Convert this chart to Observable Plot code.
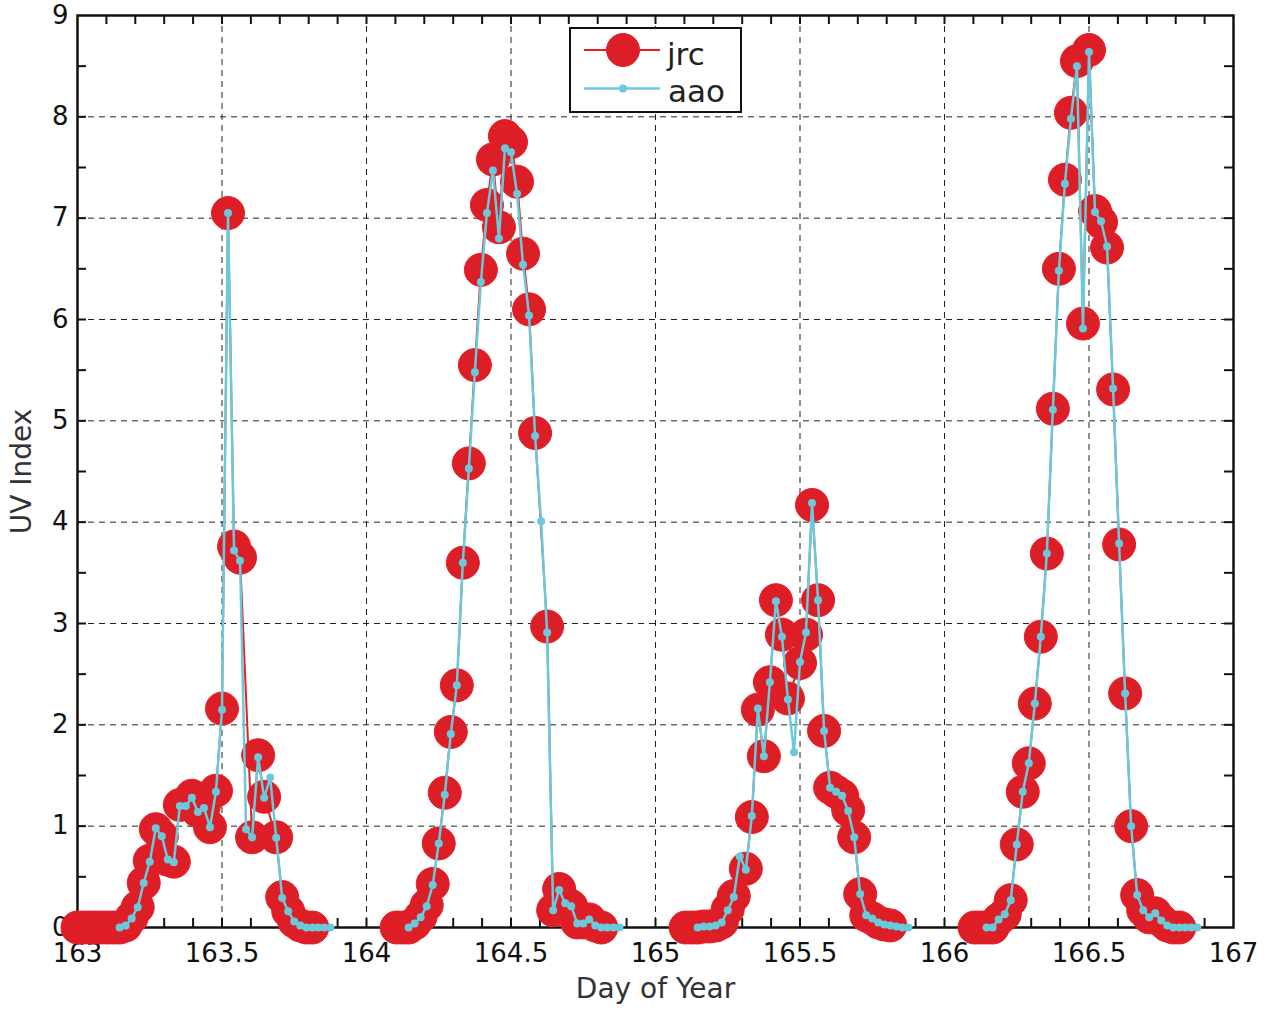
<!DOCTYPE html>
<html>
<head>
<meta charset="utf-8">
<script src="https://cdn.jsdelivr.net/npm/d3@7"></script>
<script src="https://cdn.jsdelivr.net/npm/@observablehq/plot@0.6"></script>
<style>
  html, body { margin: 0; padding: 0; background: #fff; }
  #chart { position: relative; width: 1274px; height: 1013px; font-family: "DejaVu Sans", sans-serif; }
  .legend { position: absolute; left: 569px; top: 27px; width: 173px; height: 86px;
            box-sizing: border-box; border: 2.5px solid #111; background: #fff; }
  .legend svg { display: block; }
</style>
</head>
<body>
<div id="chart"></div>
<script>
// Days of year shown, one curve per day
const days = [163, 164, 165, 166];

// aao: half-hour slot of each reading (slot / 48 = fraction of the day)
const aaoSlots = [7, 8, 9, 10, 11, 12, 13, 14, 15, 16, 17, 18, 19, 20, 21, 22, 23, 24,
                  25, 26, 27, 28, 29, 30, 31, 32, 33, 34, 35, 36, 37, 38, 39, 40, 41, 42];
const aao163 = [0, 0.02, 0.09, 0.20, 0.44, 0.65, 0.98, 0.90, 0.67, 0.645,
                1.20, 1.20, 1.28, 1.14, 1.18, 0.99, 1.34, 2.15, 7.05, 3.72,
                3.62, 0.97, 0.89, 1.68, 1.28, 1.48, 0.885, 0.29, 0.16, 0.06,
                0.02, 0, 0, 0, 0, 0];
const aao164 = [0, 0.04, 0.10, 0.21, 0.42, 0.83, 1.31, 1.91, 2.39, 3.60,
                4.53, 5.48, 6.37, 7.05, 7.47, 6.80, 7.69, 7.65, 7.24, 6.54,
                6.04, 4.85, 4.01, 2.91, 0.17, 0.37, 0.24, 0.21, 0.04, 0.04,
                0.08, 0.02, 0, 0, 0, 0];
const aao165 = [0, 0.01, 0.01, 0.02, 0.05, 0.17, 0.30, 0.70, 0.57, 1.10,
                2.16, 1.69, 2.42, 3.22, 2.87, 2.25, 1.73, 2.62, 2.91, 4.19,
                3.23, 1.94, 1.38, 1.34, 1.30, 1.15, 0.89, 0.33, 0.12, 0.09,
                0.05, 0.03, 0.02, 0.01, 0, 0];
const aao166 = [0, 0, 0.08, 0.13, 0.27, 0.82, 1.34, 1.62, 2.21, 2.87,
                3.69, 5.11, 6.48, 7.34, 7.98, 8.50, 5.91, 8.64, 7.06, 6.97,
                6.72, 5.32, 3.79, 2.31, 1.00, 0.32, 0.17, 0.10, 0.14, 0.07,
                0.02, 0, 0, 0, 0, 0];

// jrc: half-hour slots 0..39; null where no reading was recorded
const jrcSlots = [0, 1, 2, 3, 4, 5, 6, 7, 8, 9, 10, 11, 12, 13, 14, 15, 16, 17, 18, 19,
                  20, 21, 22, 23, 24, 25, 26, 27, 28, 29, 30, 31, 32, 33, 34, 35, 36, 37, 38, 39];
const jrc163 = [0, 0, 0, 0, 0, 0, 0, 0, 0.02, 0.10,
                0.20, 0.44, 0.66, 0.97, 0.90, 0.67, 0.65, 1.21, 1.22, 1.30,
                1.15, 1.20, 0.99, 1.35, 2.16, 7.05, 3.76, 3.65, null, 0.89,
                1.70, 1.29, null, 0.89, 0.30, 0.16, 0.06, 0.02, 0, 0];
const jrc164 = [null, null, null, null, null, 0, 0, 0, 0.04, 0.11,
                0.22, 0.43, 0.83, 1.33, 1.93, 2.39, 3.60, 4.58, 5.55, 6.49,
                7.13, 7.58, 6.91, 7.81, 7.75, 7.36, 6.65, 6.10, 4.88, null,
                2.97, 0.17, 0.38, 0.25, 0.21, 0.05, 0.05, 0.08, 0.02, 0];
const jrc165 = [null, null, null, null, null, 0, 0, 0, 0.01, 0.01,
                0.02, 0.05, 0.18, 0.31, null, 0.58, 1.09, 2.15, 1.69, 2.42,
                3.23, 2.89, 2.26, null, 2.61, 2.89, 4.17, 3.23, 1.94, 1.38,
                1.34, 1.30, 1.16, 0.89, 0.33, 0.12, 0.09, 0.05, 0.03, 0.02];
const jrc166 = [null, null, null, null, null, 0, 0, 0, 0, 0.08,
                0.13, 0.27, 0.82, 1.34, 1.62, 2.21, 2.87, 3.69, 5.12, 6.50,
                7.38, 8.04, 8.55, 5.96, 8.66, 7.07, 6.96, 6.71, 5.31, 3.78,
                2.31, 1.00, 0.32, 0.17, 0.10, 0.14, 0.07, 0.02, 0, 0];

// Axis ticks
const xTickLabels = [163, 163.5, 164, 164.5, 165, 165.5, 166, 166.5, 167];
const yTickLabels = [0, 1, 2, 3, 4, 5, 6, 7, 8, 9];

// Assemble long-format rows, one line per day
function rows(slots, perDay) {
  const out = [];
  days.forEach((day, i) => {
    perDay[i].forEach((v, j) => {
      if (v !== null) out.push({day, t: day + slots[j] / 48, uv: v});
    });
  });
  return out;
}
const jrc = rows(jrcSlots, [jrc163, jrc164, jrc165, jrc166]);
const aao = rows(aaoSlots, [aao163, aao164, aao165, aao166]);

const RED_LINE = "#ec1c24", RED_FILL = "#dc1f27", CYAN = "#6acadb";
const W = 1274, H = 1013, ML = 77, MR = 41, MT = 15, MB = 86;
const frameW = W - ML - MR, frameH = H - MT - MB, tick = 9;

const minorX = d3.range(1631, 1670).map(d => d / 10);
const minorY = d3.range(1, 18).map(d => d / 2);
const gridX = xTickLabels.slice(1, -1);
const gridY = yTickLabels.slice(1, -1);

const plot = Plot.plot({
  width: W, height: H,
  marginLeft: ML, marginRight: MR, marginTop: MT, marginBottom: MB,
  style: {fontFamily: "DejaVu Sans, sans-serif", background: "#fff", color: "#111"},
  x: {domain: [163, 167]},
  y: {domain: [0, 9]},
  marks: [
    // dashed grid
    Plot.ruleX(gridX, {x: d => d, stroke: "#222", strokeWidth: 1, strokeDasharray: "6,5"}),
    Plot.ruleY(gridY, {y: d => d, stroke: "#222", strokeWidth: 1, strokeDasharray: "6,5"}),
    // inward ticks on all four sides
    Plot.tickX(minorX, {x: d => d, insetTop: frameH - tick, stroke: "#111", strokeWidth: 2}),
    Plot.tickX(minorX, {x: d => d, insetBottom: frameH - tick, stroke: "#111", strokeWidth: 2}),
    Plot.tickY(minorY, {y: d => d, insetRight: frameW - tick, stroke: "#111", strokeWidth: 2}),
    Plot.tickY(minorY, {y: d => d, insetLeft: frameW - tick, stroke: "#111", strokeWidth: 2}),
    Plot.frame({stroke: "#111", strokeWidth: 2.5}),
    // tick labels
    Plot.axisX({ticks: xTickLabels, tickSize: 0, tickPadding: 16, fontSize: 26, label: null,
                tickFormat: d => String(d), fill: "#111"}),
    Plot.axisY({ticks: yTickLabels, tickSize: 0, tickPadding: 9, fontSize: 26, label: null,
                tickFormat: d => String(d), fill: "#111"}),
    // axis titles
    Plot.text(["Day of Year"], {text: d => d, frameAnchor: "bottom", lineAnchor: "middle",
                                textAnchor: "middle", dy: 62, fontSize: 28, fill: "#333"}),
    Plot.text(["UV Index"], {text: d => d, frameAnchor: "left", lineAnchor: "middle",
                             textAnchor: "middle", dx: -55, rotate: -90, fontSize: 28, fill: "#333"}),
    // jrc series
    Plot.line(jrc, {x: "t", y: "uv", z: "day", stroke: RED_LINE, strokeWidth: 2}),
    Plot.dot(jrc, {x: "t", y: "uv", r: 16.5, fill: RED_FILL, stroke: RED_LINE, strokeWidth: 1}),
    // aao series
    Plot.line(aao, {x: "t", y: "uv", z: "day", stroke: CYAN, strokeWidth: 2.5}),
    Plot.dot(aao, {x: "t", y: "uv", r: 4, fill: CYAN, stroke: "none"})
  ]
});

const chart = document.getElementById("chart");
chart.appendChild(plot);

// legend box inside the plot area
const legend = document.createElement("div");
legend.className = "legend";
legend.innerHTML = `
<svg width="168" height="81" font-family="DejaVu Sans, sans-serif">
  <line x1="13" x2="89" y1="21" y2="21" stroke="${RED_LINE}" stroke-width="2"/>
  <circle cx="52" cy="21" r="16.5" fill="${RED_FILL}" stroke="${RED_LINE}" stroke-width="1"/>
  <text x="96" y="36" font-size="31" fill="#222">jrc</text>
  <line x1="13" x2="89" y1="59.5" y2="59.5" stroke="${CYAN}" stroke-width="2.5"/>
  <circle cx="52" cy="59.5" r="4" fill="${CYAN}"/>
  <text x="97" y="73" font-size="31" fill="#222">aao</text>
</svg>`;
chart.appendChild(legend);
</script>
</body>
</html>
